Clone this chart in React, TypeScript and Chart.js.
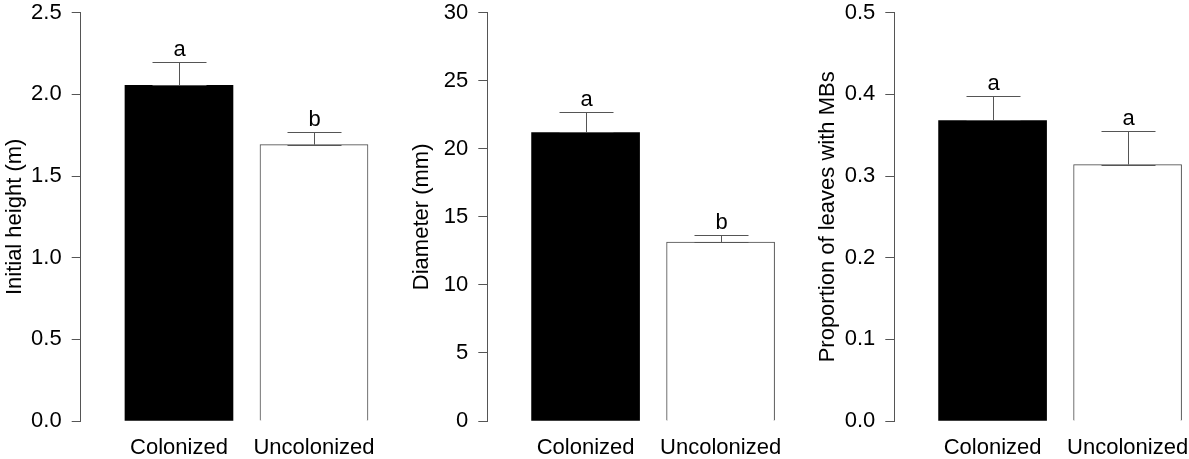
import React, { useEffect, useRef } from "react";
import { Chart, registerables } from "chart.js";

Chart.register(...registerables);

// ---- data ----
const categories = ["Colonized", "Uncolonized"];

const heightMeans = [2.056, 1.692];
const heightSE = [0.144, 0.08];
const heightLetters = ["a", "b"];
const heightTicks = { min: 0, max: 2.5, step: 0.5, decimals: 1 };

const diameterMeans = [21.2, 13.15];
const diameterSE = [1.47, 0.51];
const diameterLetters = ["a", "b"];
const diameterTicks = { min: 0, max: 30, step: 5, decimals: 0 };

const mbMeans = [0.368, 0.314];
const mbSE = [0.03, 0.041];
const mbLetters = ["a", "a"];
const mbTicks = { min: 0, max: 0.5, step: 0.1, decimals: 1 };

const barColors = ["#000000", "#ffffff"];
const barBorders = ["#000000", "#4a4a4a"];

// ---- layout ----
const FONT = "'Liberation Sans', Arial, Helvetica, sans-serif";
const FONT_SIZE = 22;
const X_MIN = -0.728;
const X_MAX = 1.45;
const UNIT_PX = 135;
const AXIS_COLOR = "#555555";

type PanelDef = {
  title: string;
  means: number[];
  se: number[];
  letters: string[];
  ticks: { min: number; max: number; step: number; decimals: number };
  left: number;
  width: number;
  yW: number;
  titlePad: number;
};

const panels: PanelDef[] = [
  { title: "Initial height (m)", means: heightMeans, se: heightSE, letters: heightLetters, ticks: heightTicks, left: 0, width: 400, yW: 80.7, titlePad: 1.8 },
  { title: "Diameter (mm)", means: diameterMeans, se: diameterSE, letters: diameterLetters, ticks: diameterTicks, left: 400, width: 400, yW: 87.3, titlePad: 8.5 },
  { title: "Proportion of leaves with MBs", means: mbMeans, se: mbSE, letters: mbLetters, ticks: mbTicks, left: 800, width: 389, yW: 94.3, titlePad: 14.3 },
];

function Panel({ p }: { p: PanelDef }) {
  const ref = useRef<HTMLCanvasElement | null>(null);
  useEffect(() => {
    if (!ref.current) return;
    const chartW = (X_MAX - X_MIN) * UNIT_PX;
    const padRight = p.width - p.yW - chartW;
    const errPlugin = {
      id: "errbars",
      afterDatasetsDraw(chart: any) {
        const ctx = chart.ctx;
        const xs = chart.scales.x;
        const ys = chart.scales.y;
        ctx.save();
        ctx.strokeStyle = AXIS_COLOR;
        ctx.lineWidth = 1;
        p.means.forEach((m, i) => {
          const x = Math.round(xs.getPixelForValue(i)) + 0.5;
          const yb = ys.getPixelForValue(m);
          const yt = Math.round(ys.getPixelForValue(m + p.se[i])) + 0.5;
          const half = 27;
          ctx.beginPath();
          ctx.moveTo(x, yb);
          ctx.lineTo(x, yt);
          ctx.moveTo(x - half, yt);
          ctx.lineTo(x + half, yt);
          ctx.moveTo(x - half, Math.round(yb) + 0.5);
          ctx.lineTo(x + half, Math.round(yb) + 0.5);
          ctx.stroke();
          ctx.fillStyle = "#000";
          ctx.font = `${FONT_SIZE}px ${FONT}`;
          ctx.textAlign = "center";
          ctx.textBaseline = "alphabetic";
          ctx.fillText(p.letters[i], x, yt - 7);
        });
        ctx.restore();
      },
    };
    const chart = new Chart(ref.current, {
      type: "bar",
      data: {
        datasets: [
          {
            data: p.means.map((m, i) => ({ x: i, y: m })),
            backgroundColor: barColors,
            borderColor: barBorders,
            borderWidth: [0, 1],
            barThickness: 108,
          } as any,
        ],
      },
      options: {
        animation: false,
        responsive: false,
        devicePixelRatio: 1,
        events: [],
        layout: { padding: { top: 12.7, left: 0, bottom: 0, right: padRight } },
        plugins: { legend: { display: false }, tooltip: { enabled: false } },
        scales: {
          x: {
            type: "linear",
            offset: false,
            min: X_MIN,
            max: X_MAX,
            grid: { display: false, offset: false },
            border: { display: false },
            afterBuildTicks: (s: any) => {
              s.ticks = categories.map((_, i) => ({ value: i }));
            },
            afterFit: (s: any) => {
              s.height = 38;
              s.paddingLeft = 0;
              s.paddingRight = 0;
              s.paddingTop = 0;
              s.paddingBottom = 0;
            },
            ticks: {
              autoSkip: false,
              maxRotation: 0,
              padding: 6,
              color: "#000",
              font: { family: FONT, size: FONT_SIZE },
              callback: (v: any) => categories[v] ?? "",
            },
          },
          y: {
            min: p.ticks.min,
            max: p.ticks.max,
            afterFit: (s: any) => {
              s.width = p.yW;
              s.paddingLeft = 0;
              s.paddingRight = 0;
              s.paddingTop = 0;
              s.paddingBottom = 0;
            },
            grid: { drawOnChartArea: false, drawTicks: true, tickLength: 9, color: AXIS_COLOR },
            border: { display: true, color: AXIS_COLOR },
            ticks: {
              stepSize: p.ticks.step,
              padding: 10,
              color: "#000",
              font: { family: FONT, size: FONT_SIZE },
              callback: (v: any) => Number(v).toFixed(p.ticks.decimals),
            },
            title: {
              display: true,
              text: p.title,
              color: "#000",
              font: { family: FONT, size: FONT_SIZE },
              padding: { top: p.titlePad, bottom: 0 },
            },
          },
        },
      } as any,
      plugins: [errPlugin],
    });
    return () => chart.destroy();
  }, [p]);
  return (
    <div style={{ position: "absolute", left: p.left, top: 0, width: p.width, height: 459 }}>
      <canvas ref={ref} width={p.width} height={459} style={{ width: p.width, height: 459, display: "block" }} />
    </div>
  );
}

export default function App() {
  return (
    <div style={{ position: "absolute", left: 0, top: 0, width: 1189, height: 459, background: "#fff" }}>
      {panels.map((p, i) => (
        <Panel key={i} p={p} />
      ))}
    </div>
  );
}
